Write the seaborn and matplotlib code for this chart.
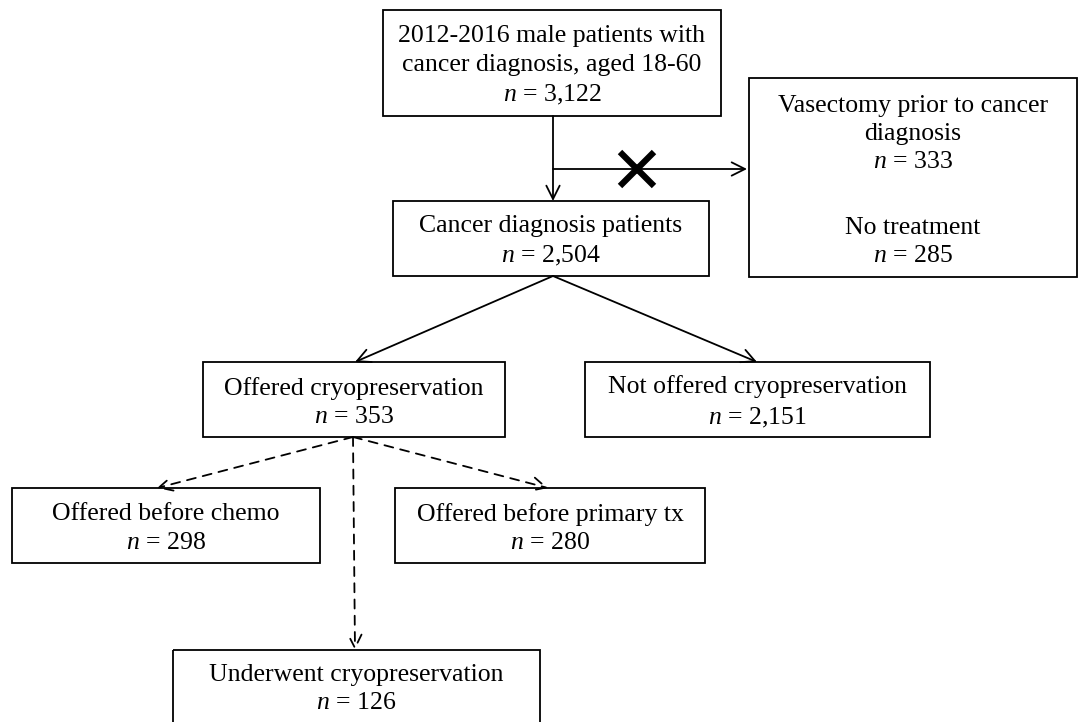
import matplotlib
matplotlib.use("Agg")
import matplotlib.pyplot as plt
import seaborn as sns
from matplotlib.patches import Rectangle

sns.set_theme(style="white")
plt.rcParams['font.family'] = ['Liberation Serif', 'DejaVu Serif']
plt.rcParams['mathtext.fontset'] = 'custom'
plt.rcParams['mathtext.rm'] = 'Liberation Serif'
plt.rcParams['mathtext.it'] = 'Liberation Serif:italic'

# ---- data ----
stage_labels = [
    "2012-2016 male patients with\ncancer diagnosis, aged 18-60",
    "Cancer diagnosis patients",
    "Offered cryopreservation",
    "Not offered cryopreservation",
    "Offered before chemo",
    "Offered before primary tx",
    "Underwent cryopreservation",
]
stage_counts = ["3,122", "2,504", "353", "2,151", "298", "280", "126"]
excluded_labels = ["Vasectomy prior to cancer\ndiagnosis", "No treatment"]
excluded_counts = ["333", "285"]

W, H = 1089, 722
fig = plt.figure(figsize=(W / 100, H / 100), dpi=100)
ax = fig.add_axes([0, 0, 1, 1])
ax.set_xlim(0, W)
ax.set_ylim(H, 0)
ax.axis("off")

FS = 18.5
LW = 1.3
LSP = 1.38

# layout (pixel boxes: x0, y0, x1, y1)
boxes = [
    (383, 10, 721, 116),
    (393, 201, 709, 276),
    (203, 362, 505, 437),
    (585, 362, 930, 437),
    (12, 488, 320, 563),
    (395, 488, 705, 563),
    (173, 650, 540, 740),
]
excl_box = (749, 78, 1077, 277)


def put_text(cx, cy, text):
    ax.text(cx, cy, text, ha="center", va="center",
            fontsize=FS, color="black", linespacing=LSP, zorder=3)


def draw_box(b, text=None, cy=None):
    x0, y0, x1, y1 = b
    ax.add_patch(Rectangle((x0, y0), x1 - x0, y1 - y0, fill=False,
                           edgecolor="black", linewidth=LW, zorder=2))
    if text is not None:
        if cy is None:
            cy = (y0 + y1) / 2 + 3
        put_text((x0 + x1) / 2, cy, text)


for i, (lab, cnt) in enumerate(zip(stage_labels, stage_counts)):
    cy = None
    if i == 6:
        cy = 689
    draw_box(boxes[i], f"{lab}\n$n$ = {cnt}", cy)

draw_box(excl_box)
ecx = (excl_box[0] + excl_box[2]) / 2
put_text(ecx, 134, f"{excluded_labels[0]}\n$n$ = {excluded_counts[0]}")
put_text(ecx, 242, f"{excluded_labels[1]}\n$n$ = {excluded_counts[1]}")


def arrow(p0, p1, dashed=False):
    ax.annotate("", xy=p1, xytext=p0,
                arrowprops=dict(arrowstyle="->",
                                color="black", lw=LW,
                                linestyle=(0, (5, 4)) if dashed else "solid",
                                shrinkA=0, shrinkB=0,
                                mutation_scale=24),
                zorder=1)


# top to cancer diagnosis
arrow((553, 116), (553, 201))
# exclusion branch
arrow((553, 169), (747, 169))
ax.plot([637], [169], marker="x", markersize=25, markeredgewidth=4.5,
        color="black", zorder=4)
# split
arrow((553, 276), (355, 362))
arrow((553, 276), (757, 362))
# dashed sub-branches
arrow((353, 437), (157, 488), dashed=True)
arrow((353, 437), (548, 488), dashed=True)
arrow((353, 437), (355, 650), dashed=True)

fig.savefig("out.png", dpi=100, facecolor="white")
